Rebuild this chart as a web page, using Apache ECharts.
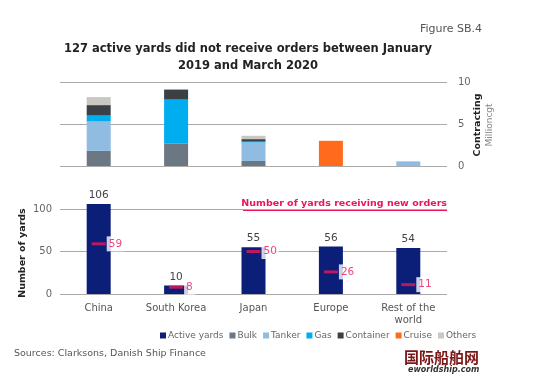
<!DOCTYPE html>
<html>
<head>
<meta charset="utf-8">
<script src="https://cdn.jsdelivr.net/npm/echarts@6/dist/echarts.min.js"></script>
<style>
  html, body { margin: 0; padding: 0; background: #fff; }
  #chart { width: 542px; height: 376px; }
</style>
</head>
<body>
<div id="chart"></div>
<script>
  // regions
  const regions = ['China', 'South Korea', 'Japan', 'Europe', 'Rest of the\nworld'];

  // contracting by ship type, million cgt
  const bulk = [1.8, 2.7, 0.6, 0, 0];
  const tanker = [3.5, 0, 2.2, 0, 0.55];
  const gas = [0.7, 5.2, 0.1, 0, 0];
  const container = [1.25, 1.2, 0.3, 0, 0];
  const cruise = [0, 0, 0, 3.0, 0];
  const others = [0.95, 0, 0.4, 0, 0];

  // number of yards
  const activeYards = [106, 10, 55, 56, 54];
  const newOrders = [59, 8, 50, 26, 11];

  const FONT = '"DejaVu Sans", Verdana, sans-serif';
  const PINK = '#e8175d';

  const chart = echarts.init(document.getElementById('chart'), null, { renderer: 'canvas' });

  // 堆叠柱子
  function stackBar(name, data, color) {
    return {
      name: name,
      type: 'bar',
      stack: 'contracting',
      xAxisIndex: 0,
      yAxisIndex: 0,
      barWidth: 24,
      itemStyle: { color: color },
      data: data
    };
  }

  chart.setOption({
    animation: false,
    textStyle: { fontFamily: FONT },
    grid: [
      { left: 60, right: 95, top: 82, height: 84 },
      { left: 60, right: 95, top: 209, height: 85 }
    ],
    legend: {
      left: 155,
      top: 326,
      itemWidth: 6,
      itemHeight: 6,
      itemGap: 6,
      icon: 'rect',
      textStyle: { fontSize: 9, color: '#666', padding: [0, 0, 0, -3] },
      data: ['Active yards', 'Bulk', 'Tanker', 'Gas', 'Container', 'Cruise', 'Others']
    },
    xAxis: [
      {
        gridIndex: 0, type: 'category', data: regions,
        axisLine: { show: false }, axisTick: { show: false }, axisLabel: { show: false }
      },
      {
        gridIndex: 1, type: 'category', data: regions,
        axisLine: { show: false }, axisTick: { show: false },
        axisLabel: { interval: 0, color: '#555', fontSize: 10, margin: 8, lineHeight: 12 }
      }
    ],
    yAxis: [
      {
        gridIndex: 0, type: 'value', position: 'right', min: 0, max: 10, interval: 5,
        axisLine: { show: false }, axisTick: { show: false },
        axisLabel: { color: '#666', fontSize: 10, margin: 11 },
        splitLine: { lineStyle: { color: '#aaa' } }
      },
      {
        gridIndex: 1, type: 'value', min: 0, max: 100, interval: 50,
        axisLine: { show: false }, axisTick: { show: false },
        axisLabel: { color: '#666', fontSize: 10, margin: 8 },
        splitLine: { lineStyle: { color: '#aaa' } }
      }
    ],
    series: [
      {
        name: 'Active yards',
        type: 'bar',
        xAxisIndex: 1,
        yAxisIndex: 1,
        barWidth: 24,
        clip: false,
        itemStyle: { color: '#0b1f78' },
        label: { show: true, position: 'top', distance: 3, color: '#444', fontSize: 10.5 },
        data: activeYards
      },
      stackBar('Bulk', bulk, '#6b7884'),
      stackBar('Tanker', tanker, '#8fbce0'),
      stackBar('Gas', gas, '#00adef'),
      stackBar('Container', container, '#3b4047'),
      stackBar('Cruise', cruise, '#ff6a1c'),
      stackBar('Others', others, '#c8c7c0'),
      {
        name: 'New orders',
        type: 'scatter',
        xAxisIndex: 1,
        yAxisIndex: 1,
        symbol: 'rect',
        symbolSize: [14, 3],
        clip: false,
        z: 5,
        itemStyle: { color: PINK },
        label: {
          show: true, position: 'right', distance: 1,
          color: PINK, fontSize: 10.5,
          backgroundColor: '#fff', padding: [2, 2, 2, 2]
        },
        data: newOrders
      }
    ],
    graphic: [
      { type: 'text', left: 420, top: 24, style: { text: 'Figure SB.4', font: '11px ' + FONT, fill: '#555' } },
      {
        type: 'text', x: 248, y: 41,
        style: {
          text: '127 active yards did not receive orders between January\n2019 and March 2020',
          font: 'bold 11.5px ' + FONT, fill: '#222', textAlign: 'center', lineHeight: 17
        }
      },
      {
        type: 'text', x: 478, y: 125, rotation: Math.PI / 2,
        style: { text: 'Contracting', font: 'bold 9.5px ' + FONT, fill: '#222', textAlign: 'center', textVerticalAlign: 'middle' }
      },
      {
        type: 'text', x: 490, y: 125, rotation: Math.PI / 2,
        style: { text: 'Millioncgt', font: '9px ' + FONT, fill: '#888', textAlign: 'center', textVerticalAlign: 'middle' }
      },
      {
        type: 'text', x: 23, y: 253, rotation: Math.PI / 2,
        style: { text: 'Number of yards', font: 'bold 9.5px ' + FONT, fill: '#222', textAlign: 'center', textVerticalAlign: 'middle' }
      },
      {
        type: 'text', x: 447, y: 204,
        style: { text: 'Number of yards receiving new orders', font: 'bold 9.5px ' + FONT, fill: PINK, textAlign: 'right', textVerticalAlign: 'middle' }
      },
      { type: 'line', shape: { x1: 243, y1: 210.5, x2: 447, y2: 210.5 }, style: { stroke: PINK, lineWidth: 1 } },
      { type: 'text', left: 14, top: 349, style: { text: 'Sources: Clarksons, Danish Ship Finance', font: '9.5px ' + FONT, fill: '#555' } },
      { type: 'text', left: 404, top: 350, style: { text: '国际船舶网', font: 'bold 15px "Noto Sans CJK SC"', fill: '#7a1616' } },
      { type: 'text', left: 408, top: 366, style: { text: 'eworldship.com', font: 'bold italic 8px ' + FONT, fill: '#333' } }
    ]
  });
</script>
</body>
</html>
